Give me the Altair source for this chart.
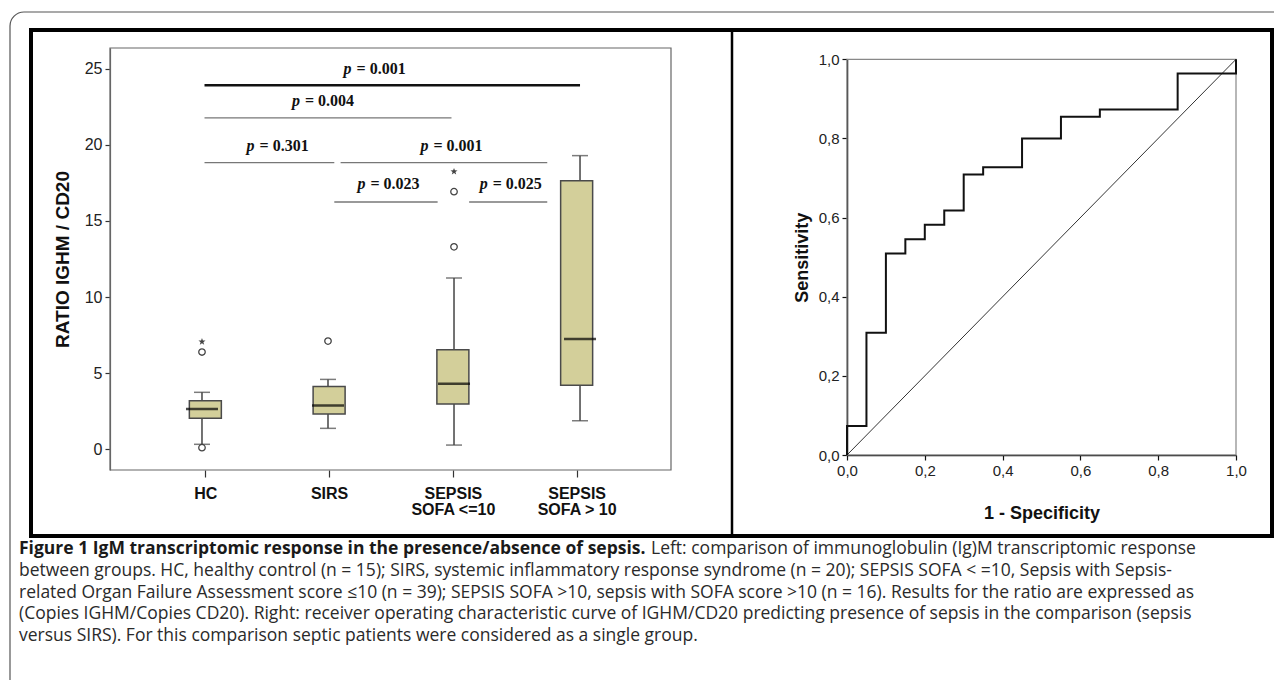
import altair as alt
import pandas as pd

# ---------------- left panel: box plots ----------------
groups = ["HC", "SIRS", "SEPSIS\nSOFA <=10", "SEPSIS\nSOFA  > 10"]
group_pos = [1, 2, 3, 4]
q1 = [2.02, 2.30, 2.96, 4.19]
medians = [2.63, 2.87, 4.30, 7.24]
q3 = [3.18, 4.12, 6.53, 17.65]
whisker_low = [0.31, 1.36, 0.26, 1.86]
whisker_high = [3.73, 4.58, 11.25, 19.30]
outlier_group = [1, 1, 2, 3, 3]
outlier_value = [0.09, 6.38, 7.10, 13.30, 16.93]
extreme_group = [1, 3]
extreme_value = [7.06, 18.25]
y_ticks = [0, 5, 10, 15, 20, 25]
y_title = "RATIO IGHM / CD20"

p_values = ["0.001", "0.004", "0.301", "0.001", "0.023", "0.025"]
bracket_from = [1.02, 1.02, 1.02, 2.10, 2.05, 3.12]
bracket_to = [4.00, 2.98, 2.05, 3.74, 2.87, 3.74]
bracket_y = [23.93, 21.78, 18.84, 18.84, 16.25, 16.25]
p_label_x = [2.37, 1.96, 1.60, 2.98, 2.48, 3.45]
p_label_y = [25.0, 22.9, 19.93, 19.93, 17.43, 17.43]

# ---------------- right panel: ROC ----------------
roc_fpr = [0, 0.05, 0.10, 0.15, 0.20, 0.25, 0.30, 0.35, 0.45, 0.55, 0.65, 0.85, 1.0, 1.0]
roc_tpr = [0, 0.073, 0.309, 0.509, 0.545, 0.582, 0.618, 0.709, 0.727, 0.80, 0.855, 0.873, 0.964, 1.0]
ref_x = [0, 1]
ref_y = [0, 1]
roc_ticks = [0, 0.2, 0.4, 0.6, 0.8, 1.0]
roc_x_title = "1 - Specificity"
roc_y_title = "Sensitivity"

# ---------------- caption ----------------
caption_bold = "Figure 1 IgM transcriptomic response in the presence/absence of sepsis."
caption_lines = [
    "Left: comparison of immunoglobulin (Ig)M transcriptomic response",
    "between groups. HC, healthy control (n = 15); SIRS, systemic inflammatory response syndrome (n = 20); SEPSIS SOFA < =10, Sepsis with Sepsis-",
    "related Organ Failure Assessment score \u226410 (n = 39); SEPSIS SOFA >10, sepsis with SOFA score >10 (n = 16). Results for the ratio are expressed as",
    "(Copies IGHM/Copies CD20). Right: receiver operating characteristic curve of IGHM/CD20 predicting presence of sepsis in the comparison (sepsis",
    "versus SIRS). For this comparison septic patients were considered as a single group.",
]

# ---------------- tables ----------------
box_df = pd.DataFrame({"pos": group_pos, "q1": q1, "med": medians, "q3": q3,
                       "lo": whisker_low, "hi": whisker_high})
cap_df = pd.DataFrame({"pos": group_pos + group_pos, "v": whisker_low + whisker_high})
out_df = pd.DataFrame({"pos": outlier_group, "v": outlier_value})
ext_df = pd.DataFrame({"pos": extreme_group, "v": extreme_value})
br_df = pd.DataFrame({"idx": list(range(len(p_values))), "x0": bracket_from,
                      "x1": bracket_to, "y": bracket_y})
pl_df = pd.DataFrame({"x": p_label_x, "y": p_label_y, "txt": ["= " + v for v in p_values]})
roc_df = pd.DataFrame({"i": list(range(len(roc_fpr))), "fpr": roc_fpr, "tpr": roc_tpr})
ref_df = pd.DataFrame({"x": ref_x, "y": ref_y})
frame_df = pd.DataFrame({"x0": [ref_x[0]], "x1": [ref_x[1]], "y0": [ref_y[0]], "y1": [ref_y[1]]})
capt_df = pd.DataFrame({"line": list(range(1, len(caption_lines))), "txt": caption_lines[1:]})
one = pd.DataFrame({"k": [0]})

# ---------------- scales ----------------
LX = alt.Scale(domain=[0.27, 4.722], range=[102, 663], nice=False, zero=False)
LY = alt.Scale(domain=[-1.38, 26.38], range=[462, 40], nice=False, zero=False)
RX = alt.Scale(domain=[0, 1], range=[839, 1228], nice=False, zero=False)
RY = alt.Scale(domain=[0, 1], range=[447, 51.3], nice=False, zero=False)
CY = alt.Scale(domain=[0, 4], range=[541, 628], nice=False, zero=False)

label_expr = ""
for g, p in zip(groups, group_pos):
    parts = g.split("\n")
    lab = "'" + parts[0] + "'" if len(parts) == 1 else "[" + ",".join("'" + s + "'" for s in parts) + "]"
    label_expr += f"datum.value == {p} ? {lab} : "
label_expr += "''"

roc_label_expr = "replace(format(datum.value, '.1f'), '.', ',')"

AX = "Liberation Sans"
CAP_SIZE = 17.5

left_y_axis = alt.Axis(orient="left", offset=-102, values=y_ticks, grid=False,
                       domainColor="#666", domainWidth=1.2, tickColor="#333", tickSize=5,
                       tickWidth=1.2, labelFont=AX, labelFontSize=16, labelColor="#222",
                       labelPadding=3, labelFlush=False, labelOverlap=False,
                       title=y_title, titleFont=AX, titleFontSize=19, titleFontWeight="bold",
                       titleColor="#111", titleAngle=270, titleX=-48, titleBaseline="middle")
left_x_axis = alt.Axis(orient="bottom", offset=-210, values=group_pos, labelExpr=label_expr,
                       grid=False, domain=False, tickColor="#333", tickSize=7, tickWidth=1.2,
                       labelFont=AX, labelFontSize=16, labelFontWeight="bold", labelColor="#111",
                       labelLineHeight=16, labelPadding=8, labelFlush=False, labelOverlap=False)
roc_y_axis = alt.Axis(orient="left", offset=-839, values=roc_ticks, labelExpr=roc_label_expr,
                      grid=False, domainColor="#111", domainWidth=1.5, tickColor="#111",
                      tickSize=5, tickWidth=1.2, labelFont=AX, labelFontSize=15,
                      labelColor="#222", labelPadding=3, labelFlush=False, labelOverlap=False,
                      title=roc_y_title, titleFont=AX, titleFontSize=18, titleFontWeight="bold",
                      titleColor="#111", titleAngle=270, titleX=-45, titleBaseline="middle")
roc_x_axis = alt.Axis(orient="bottom", offset=-225, values=roc_ticks, labelExpr=roc_label_expr,
                      grid=False, domainColor="#111", domainWidth=1.5, tickColor="#111",
                      tickSize=5, tickWidth=1.2, labelFont=AX, labelFontSize=15,
                      labelColor="#222", labelPadding=3, labelFlush=False, labelOverlap=False,
                      title=roc_x_title, titleFont=AX, titleFontSize=18, titleFontWeight="bold",
                      titleColor="#111", titleY=58, titleBaseline="middle")

# ---------------- decorations ----------------
outer = alt.Chart(one).mark_rect(fill="transparent", stroke="#555", strokeWidth=1.2,
                                 cornerRadius=14).encode(
    x=alt.value(2), x2=alt.value(1300), y=alt.value(4), y2=alt.value(700))
frame = alt.Chart(one).mark_rect(fill="transparent", stroke="#000", strokeWidth=4).encode(
    x=alt.value(23), x2=alt.value(1264), y=alt.value(22), y2=alt.value(528))
divider = alt.Chart(one).mark_rule(color="#000", strokeWidth=2.5).encode(
    x=alt.value(724), y=alt.value(22), y2=alt.value(528))
left_frame = alt.Chart(one).mark_rect(fill="transparent", stroke="#666", strokeWidth=1.2).encode(
    x=alt.value(102), x2=alt.value(663), y=alt.value(40), y2=alt.value(462))

# ---------------- left panel layers ----------------
whisk = alt.Chart(box_df).mark_rule(color="#444", strokeWidth=1.5).encode(
    x=alt.X("pos:Q", scale=LX, axis=None),
    y=alt.Y("lo:Q", scale=LY, axis=None), y2="hi:Q")
caps = alt.Chart(cap_df).mark_tick(orient="horizontal", size=16, thickness=1.5, color="#444").encode(
    x=alt.X("pos:Q", scale=LX, axis=None), y=alt.Y("v:Q", scale=LY, axis=None))
boxes = alt.Chart(box_df).mark_bar(size=32, color="#d3cf9a", stroke="#4a4a4a", strokeWidth=1.5).encode(
    x=alt.X("pos:Q", scale=LX, axis=left_x_axis, title=None),
    y=alt.Y("q1:Q", scale=LY, axis=left_y_axis), y2="q3:Q")
meds = alt.Chart(box_df).mark_tick(orient="horizontal", size=32, thickness=2.5, color="#000").encode(
    x=alt.X("pos:Q", scale=LX, axis=None), y=alt.Y("med:Q", scale=LY, axis=None))
outs = alt.Chart(out_df).mark_point(shape="circle", filled=False, size=42, color="#444",
                                    strokeWidth=1.3, opacity=1).encode(
    x=alt.X("pos:Q", scale=LX, axis=None), y=alt.Y("v:Q", scale=LY, axis=None))
star = "M0,-1L0.24,-0.33L0.95,-0.31L0.38,0.12L0.59,0.81L0,0.4L-0.59,0.81L-0.38,0.12L-0.95,-0.31L-0.24,-0.33Z"
exts = alt.Chart(ext_df).mark_point(shape=star, filled=True, size=55, color="#444", opacity=1).encode(
    x=alt.X("pos:Q", scale=LX, axis=None), y=alt.Y("v:Q", scale=LY, axis=None))
brackets = alt.Chart(br_df).mark_rule().encode(
    x=alt.X("x0:Q", scale=LX, axis=None), x2="x1:Q",
    y=alt.Y("y:Q", scale=LY, axis=None),
    color=alt.condition(alt.datum.idx == 0, alt.value("#111"), alt.value("#777")),
    strokeWidth=alt.condition(alt.datum.idx == 0, alt.value(2.5), alt.value(1.3)))
p_it = alt.Chart(pl_df).mark_text(text="p", font="Liberation Serif", fontStyle="italic",
                                  fontWeight="bold", fontSize=16, align="left", dx=-31,
                                  baseline="middle", color="#111").encode(
    x=alt.X("x:Q", scale=LX, axis=None), y=alt.Y("y:Q", scale=LY, axis=None))
p_val = alt.Chart(pl_df).mark_text(font="Liberation Serif", fontWeight="bold", fontSize=16,
                                   align="left", dx=-18, baseline="middle", color="#111").encode(
    x=alt.X("x:Q", scale=LX, axis=None), y=alt.Y("y:Q", scale=LY, axis=None), text="txt:N")

# ---------------- right panel layers ----------------
roc_frame = alt.Chart(frame_df).mark_rect(fill="transparent", stroke="#888", strokeWidth=1.2).encode(
    x=alt.X("x0:Q", scale=RX, axis=None), x2="x1:Q",
    y=alt.Y("y0:Q", scale=RY, axis=None), y2="y1:Q")
diag = alt.Chart(ref_df).mark_line(color="#333", strokeWidth=1).encode(
    x=alt.X("x:Q", scale=RX, axis=None), y=alt.Y("y:Q", scale=RY, axis=None))
roc = alt.Chart(roc_df).mark_line(interpolate="step-before", color="#111", strokeWidth=2).encode(
    x=alt.X("fpr:Q", scale=RX, axis=roc_x_axis),
    y=alt.Y("tpr:Q", scale=RY, axis=roc_y_axis),
    order="i:Q")

# ---------------- caption layers ----------------
cap_bold = alt.Chart(one).mark_text(text=caption_bold, font="Open Sans", fontWeight="bold",
                                    fontSize=CAP_SIZE, align="left", baseline="middle", color="#1a1a1a").encode(
    x=alt.value(11), y=alt.value(541))
cap_first = alt.Chart(one).mark_text(text=caption_lines[0], font="Open Sans", fontSize=CAP_SIZE,
                                     align="left", baseline="middle", color="#2a2a2a").encode(
    x=alt.value(643), y=alt.value(541))
cap_rest = alt.Chart(capt_df).mark_text(font="Open Sans", fontSize=CAP_SIZE, align="left",
                                        baseline="middle", color="#2a2a2a").encode(
    x=alt.value(11), y=alt.Y("line:Q", scale=CY, axis=None), text="txt:N")

chart = alt.layer(
    outer, frame, divider,
    whisk, caps, boxes, meds, outs, exts, brackets, p_it, p_val, left_frame,
    roc_frame, diag, roc,
    cap_bold, cap_first, cap_rest,
).resolve_scale(x="independent", y="independent").properties(
    width=1266, height=672, autosize=alt.AutoSizeParams(type="none"), padding=0,
    background="white",
).configure_view(stroke="transparent")

chart.save("out.html", embed_options={"renderer": "svg", "actions": False})
